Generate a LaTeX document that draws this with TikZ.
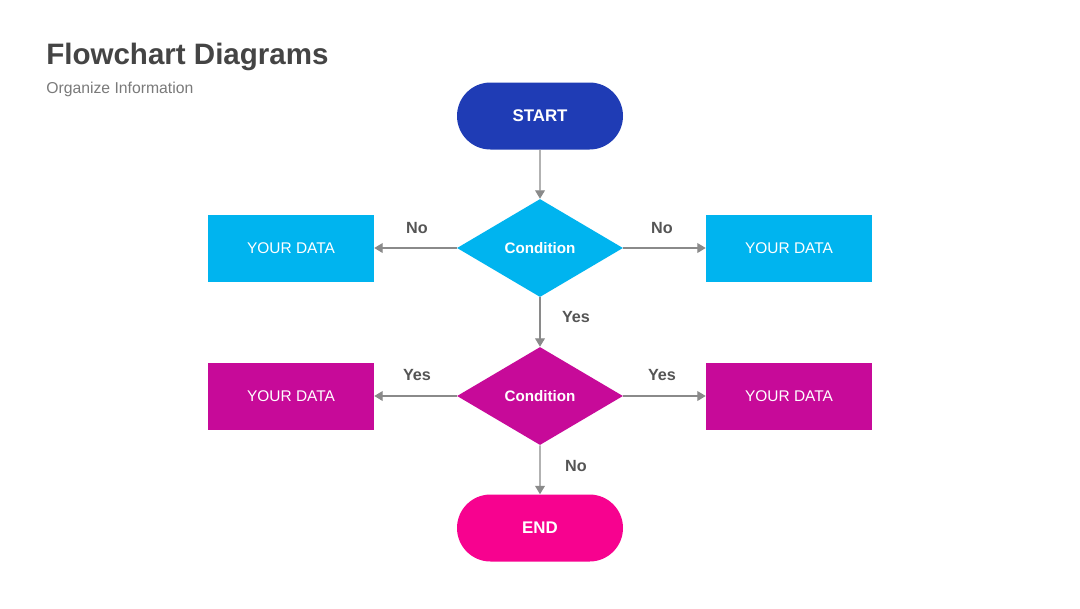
\documentclass[tikz,border=0pt]{standalone}
\usepackage{fontspec}
\setmainfont{Liberation Sans}
\usetikzlibrary{shapes.geometric,shapes.misc,arrows.meta}
\definecolor{titlegray}{HTML}{444444}
\definecolor{subgray}{HTML}{7A7A7A}
\definecolor{linegray}{HTML}{8A8A8A}
\definecolor{lblgray}{HTML}{555555}
\definecolor{startblue}{HTML}{1F3CB5}
\definecolor{cyanbox}{HTML}{00B4EF}
\definecolor{magbox}{HTML}{C70A99}
\definecolor{endpink}{HTML}{F7028F}
\tikzset{
  px/.style={x=0.025cm,y=-0.025cm},
  term/.style={rounded rectangle, fill=#1, text=white, minimum width=166*0.025cm, minimum height=67*0.025cm, inner sep=0pt, font=\fontsize{12}{14}\selectfont\bfseries},
  cond/.style={diamond, fill=#1, text=white, minimum width=166*0.025cm, minimum height=98*0.025cm, inner sep=0pt, aspect=1.69, font=\fontsize{10.8}{13}\selectfont\bfseries},
  databox/.style={rectangle, fill=#1, text=white, minimum width=166*0.025cm, minimum height=67*0.025cm, inner sep=0pt, font=\fontsize{11}{13}\selectfont},
  conn/.style={draw=linegray, line width=0.9pt, -{Triangle[length=6pt,width=7pt]}},
  lbl/.style={text=lblgray, font=\fontsize{11.5}{13}\selectfont\bfseries, inner sep=0pt}
}
\begin{document}
\begin{tikzpicture}[px]
\useasboundingbox (0,0) rectangle (1080,608);
\fill[white] (0,0) rectangle (1080,608);
\node[anchor=base west, inner sep=0pt, text=titlegray, font=\fontsize{21}{24}\selectfont\bfseries] (title) at (46,64) {Flowchart Diagrams};
\node[anchor=base west, inner sep=0pt, text=subgray, font=\fontsize{11.2}{13}\selectfont] (sub) at (46,93) {Organize Information};

\node[term=startblue] (start) at (540,116) {START};
\node[cond=cyanbox] (c1) at (540,248) {Condition};
\node[databox=cyanbox] (d1l) at (291,248) {YOUR DATA};
\node[databox=cyanbox] (d1r) at (789,248) {YOUR DATA};
\node[cond=magbox] (c2) at (540,396) {Condition};
\node[databox=magbox] (d2l) at (291,396) {YOUR DATA};
\node[databox=magbox] (d2r) at (789,396) {YOUR DATA};
\node[term=endpink] (end) at (540,528) {END};

\draw[conn] (start) -- (c1);
\draw[conn] (c1) -- (d1l);
\draw[conn] (c1) -- (d1r);
\draw[conn] (c1) -- (c2);
\draw[conn] (c2) -- (d2l);
\draw[conn] (c2) -- (d2r);
\draw[conn] (c2) -- (end);

\node[lbl] (n1) at (417,228) {No};
\node[lbl] (n2) at (662,228) {No};
\node[lbl] (y1) at (576,317) {Yes};
\node[lbl] (y2) at (417,375) {Yes};
\node[lbl] (y3) at (662,375) {Yes};
\node[lbl] (n3) at (576,466) {No};
\end{tikzpicture}
\end{document}
